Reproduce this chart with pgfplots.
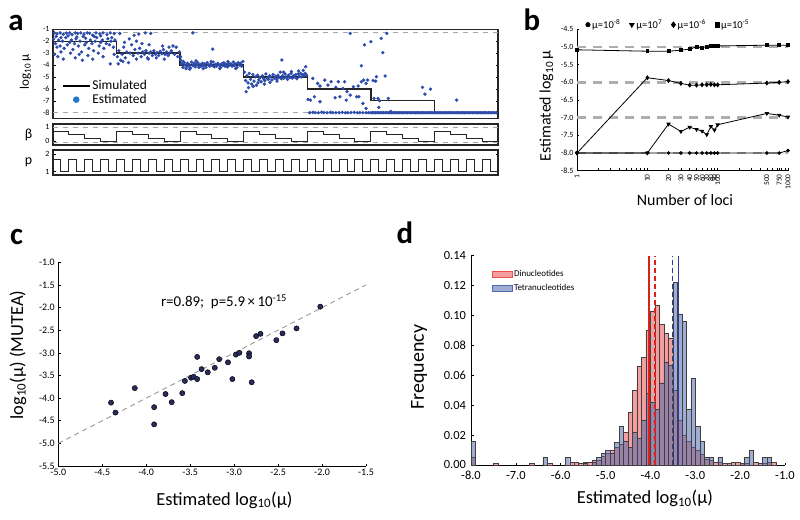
\documentclass[border=0pt]{standalone}
\usepackage{fontspec}
\setmainfont{Carlito}
\usepackage{pgfplots}
\pgfplotsset{compat=1.18}
\definecolor{ptblue}{RGB}{45,75,170}
\definecolor{legblue}{RGB}{30,120,200}
\definecolor{navy}{RGB}{40,45,95}
\definecolor{hred}{RGB}{235,80,80}
\definecolor{hblue}{RGB}{80,105,175}
\definecolor{lred}{RGB}{225,30,30}
\definecolor{lblue}{RGB}{40,60,160}
\definecolor{dgray}{RGB}{165,165,165}
\newcommand{\fs}[1]{\fontsize{#1}{#1}\selectfont}
\pgfplotsset{
  base/.style={scale only axis, anchor=north west,
    /pgf/number format/assume math mode=true,
    tick style={black, line width=0.5bp}, major tick length=2.5bp},
  every non boxed x axis/.append style={x axis line style={-}, xtick align=outside},
  every non boxed y axis/.append style={y axis line style={-}, ytick align=outside},
}
\begin{document}
\begin{tikzpicture}
\useasboundingbox (0bp,0bp) rectangle (800bp,-520bp);
% panel labels
\node[font=\bfseries\fs{31}] at (16bp,-23bp) {a};
\node[font=\bfseries\fs{31}] at (532bp,-20bp) {b};
\node[font=\bfseries\fs{31}] at (16.5bp,-237bp) {c};
\node[font=\bfseries\fs{31}] at (405bp,-233bp) {d};

% ---------- panel a main ----------
\begin{axis}[base, at={(53bp,-29.3bp)}, width=445bp, height=89bp,
  xmin=0, xmax=56, ymin=-8.47, ymax=-1,
  xtick=\empty, ytick={-8,-7,-6,-5,-4,-3,-2,-1},
  ytick pos=both, yticklabel pos=left, tick align=inside,
  yticklabel style={font=\fs{8}},
  axis line style={line width=1.1bp, black!85},
  ylabel={log\textsubscript{10}\,μ}, ylabel style={font=\fs{13}, at={(axis description cs:-0.062,0.52)}, anchor=center},
  legend style={draw=none, fill=none, at={(axis description cs:0.02,0.45)}, anchor=north west, font=\fs{13.5}, row sep=-1bp, inner sep=0pt},
  legend cell align=left]
\addplot[dgray, line width=1bp, dash pattern=on 5bp off 5bp, forget plot] coordinates {(0,-1.3)(56,-1.3)};
\addplot[dgray, line width=1bp, dash pattern=on 5bp off 5bp, forget plot] coordinates {(0,-8)(56,-8)};
\addplot[only marks, mark=*, mark size=1.5bp, color=ptblue, forget plot] coordinates {
(0.2,-1.3)(0.5,-1.38)(0.9,-1.3)(1.3,-1.42)(1.7,-1.32)(2.1,-1.3)(2.4,-1.45)(2.8,-1.3)(3.1,-1.35)(3.5,-1.3)(3.9,-1.4)(4.3,-1.3)(4.6,-1.33)(5.0,-1.5)(5.4,-1.3)(5.9,-1.38)(6.3,-1.3)(6.8,-1.45)(7.2,-1.3)(7.7,-1.36)
(0.4,-1.6)(1.0,-1.7)(1.9,-1.55)(3.0,-1.65)(4.1,-1.75)(5.2,-1.6)(6.0,-1.55)(7.4,-1.7)
(0.1,-1.8)(0.3,-2.2)(0.5,-2.5)(0.7,-1.9)(0.9,-2.4)(1.2,-2.0)(1.4,-2.6)(1.6,-1.7)(1.8,-2.3)(2.1,-2.1)(2.3,-1.9)(2.5,-2.7)(2.7,-2.2)(2.9,-1.8)(3.2,-2.4)(3.4,-2.0)(3.6,-2.9)(3.8,-1.6)(4.0,-2.3)(4.2,-2.1)(4.5,-2.6)(4.7,-1.9)(4.9,-2.2)(5.1,-2.8)(5.3,-2.0)(5.5,-1.7)(5.8,-2.4)(6.0,-2.1)(6.2,-1.9)(6.4,-2.6)(6.7,-2.2)(6.9,-1.8)(7.1,-2.3)(7.3,-2.0)(7.6,-2.5)(7.8,-1.9)
(0.2,-3.1)(0.6,-3.3)(1.0,-2.9)(1.3,-3.5)(2.2,-3.0)(2.8,-3.4)(3.3,-3.1)(3.7,-3.6)(4.4,-3.2)(5.0,-3.5)(5.7,-3.0)(6.3,-3.3)(7.2,-3.9)(7.7,-3.1)
(8.1,-3.3)(8.3,-2.8)(8.5,-3.6)(8.7,-3.1)(8.9,-2.5)(9.1,-3.4)(9.3,-2.9)(9.5,-3.8)(9.7,-3.0)(9.9,-2.3)(10.1,-3.2)(10.3,-2.7)(10.5,-3.5)(10.7,-3.0)(10.9,-2.6)(11.1,-3.3)(11.3,-2.9)(11.5,-3.1)(11.7,-2.8)(11.9,-3.4)(12.1,-3.0)(12.3,-2.9)(12.5,-3.2)(12.7,-2.8)(12.9,-3.1)(13.1,-2.95)(13.3,-3.2)(13.5,-2.85)(13.7,-3.05)(13.9,-2.7)(14.1,-3.1)(14.3,-2.9)(14.5,-3.2)(14.7,-3.0)(14.9,-2.8)(15.1,-2.4)(15.3,-3.1)(15.5,-2.5)(15.7,-3.3)(15.9,-2.9)
(8.4,-1.35)(9.6,-1.8)(10.2,-1.5)(10.8,-1.4)(11.6,-1.3)(12.3,-1.35)(9.0,-2.1)(10.5,-2.0)(11.2,-2.2)(8.2,-3.9)(8.8,-3.7)(12.0,-3.5)(13.0,-3.4)(14.0,-3.5)(12.1,-2.3)(13.8,-2.4)(14.6,-2.5)
(16.1,-3.6)(16.2,-3.9)(16.35,-4.2)(16.5,-3.8)(16.6,-4.0)(16.75,-4.3)(16.9,-3.85)(17.0,-4.1)(17.15,-3.95)(17.3,-4.25)(17.45,-3.75)(17.6,-4.05)(17.75,-3.9)(17.9,-4.15)(18.05,-4.0)(18.2,-3.8)(18.35,-4.2)(18.5,-3.95)(18.65,-4.1)(18.8,-3.85)(18.95,-4.05)(19.1,-3.9)(19.25,-4.2)(19.4,-3.8)(19.55,-4.0)(19.7,-4.1)(19.85,-3.9)(20.0,-4.05)(20.15,-3.75)(20.3,-4.15)(20.45,-3.95)(20.6,-4.1)(20.75,-3.85)(20.9,-4.0)(21.05,-4.2)(21.2,-3.9)(21.35,-4.05)(21.5,-3.8)(21.65,-4.1)(21.8,-3.95)(21.95,-4.15)(22.1,-3.85)(22.25,-4.0)(22.4,-3.9)(22.55,-4.1)(22.7,-3.75)(22.85,-4.05)(23.0,-3.9)(23.15,-4.2)(23.3,-3.8)(23.45,-4.0)(23.6,-3.85)(23.75,-4.1)(23.9,-3.7)
(16.4,-3.7)(17.2,-4.35)(18.0,-3.65)(18.9,-4.3)(19.9,-3.7)(21.0,-4.3)(22.0,-3.7)(23.0,-4.3)(16.8,-4.05)(17.8,-3.85)(19.0,-4.0)(20.5,-4.0)(21.7,-3.95)(22.9,-3.95)(17.6,-1.3)(20.1,-2.66)(16.05,-3.3)
(24.1,-4.6)(24.3,-6.24)(24.25,-5.3)(24.4,-4.9)(24.55,-5.5)(24.7,-4.7)(24.85,-5.2)(25.0,-5.6)(25.15,-4.8)(25.3,-5.35)(25.45,-5.0)(25.6,-5.7)(25.75,-4.85)(25.9,-5.25)(26.05,-5.05)(26.2,-5.4)(26.35,-4.9)(26.5,-5.15)(26.65,-5.3)(26.8,-4.75)(26.95,-5.1)(27.1,-5.2)(27.25,-4.9)(27.4,-5.0)(27.55,-5.25)(27.7,-4.8)(27.85,-5.1)(28.0,-4.95)(28.15,-5.2)(28.3,-4.85)(28.45,-5.05)(28.6,-4.6)(28.8,-3.58)(28.75,-5.15)(28.9,-4.9)(29.05,-5.1)(29.2,-4.75)(29.35,-5.0)(29.5,-5.2)(29.65,-4.85)(29.8,-5.05)(29.95,-4.7)(30.1,-5.1)(30.25,-4.9)(30.4,-5.0)(30.55,-4.8)(30.7,-5.15)(30.85,-4.75)(31.0,-4.95)(31.15,-4.7)(31.3,-5.0)(31.45,-4.8)(31.6,-4.9)(31.75,-4.7)(31.8,-4.14)(31.9,-4.85)
(24.6,-5.9)(25.2,-5.8)(25.8,-5.5)(26.6,-5.6)(27.3,-5.45)(28.2,-5.35)(29.0,-4.6)(30.0,-4.55)(30.9,-4.5)(31.5,-4.45)
(32.7,-5.12)(33.3,-5.54)(33.6,-5.76)(34.2,-5.26)(34.6,-5.68)(35.0,-5.40)(35.6,-5.87)(35.9,-5.40)(36.5,-5.96)(36.7,-5.40)(37.0,-6.24)(37.4,-6.52)(37.8,-5.82)(38.2,-6.66)(38.4,-5.76)(38.8,-5.40)(39.1,-5.26)(39.4,-5.54)(39.6,-5.26)
(32.9,-6.66)(33.6,-7.08)(35.5,-6.75)(36.1,-6.66)(36.9,-6.94)(38.5,-6.66)(39.0,-7.22)(39.4,-7.64)(40.4,-6.80)(41.0,-7.55)(42.2,-6.80)(32.1,-6.88)(32.4,-6.94)
(40.7,-4.98)(40.9,-6.8)(41.5,-2.96)(40.0,-2.04)(39.2,-2.3)(41.3,-1.76)(42.0,-1.34)(38.8,-4.06)(37.4,-1.34)(41.8,-4.92)(46.5,-5.87)(46.8,-6.44)(47.5,-6.02)(50.8,-6.94)(40.3,-5.3)(40.6,-5.35)(41.1,-7.0)(42.5,-7.9)
(32.3,-8)(32.7,-7.97)(33.0,-8)(33.4,-8)(33.8,-7.96)(34.1,-8)(34.5,-8)(34.9,-7.97)(35.2,-8)(35.6,-8)(36.0,-8)(36.4,-7.97)(36.8,-8)(37.1,-8)(37.5,-8)(37.9,-7.97)(38.3,-8)(38.6,-8)(39.0,-8)(39.4,-8)(39.7,-8)
(40.0,-8)(40.2,-8)(40.4,-8)(40.6,-8)(40.8,-8)(41.0,-8)(41.2,-8)(41.4,-8)(41.6,-8)(41.8,-8)(42.0,-8)(42.2,-8)(42.4,-8)(42.6,-8)(42.8,-8)(43.0,-8)(43.2,-8)(43.4,-8)(43.6,-8)(43.8,-8)
(44.0,-8)(44.2,-8)(44.4,-8)(44.6,-8)(44.8,-8)(45.0,-8)(45.2,-8)(45.4,-8)(45.6,-8)(45.8,-8)(46.0,-8)(46.2,-8)(46.4,-8)(46.6,-8)(46.8,-8)(47.0,-8)(47.2,-8)(47.4,-8)(47.6,-8)(47.8,-8)
(48.0,-8)(48.2,-8)(48.4,-8)(48.6,-8)(48.8,-8)(49.0,-8)(49.2,-8)(49.4,-8)(49.6,-8)(49.8,-8)(50.0,-8)(50.2,-8)(50.4,-8)(50.6,-8)(50.8,-8)(51.0,-8)(51.2,-8)(51.4,-8)(51.6,-8)(51.8,-8)
(52.0,-8)(52.2,-8)(52.4,-8)(52.6,-8)(52.8,-8)(53.0,-8)(53.2,-8)(53.4,-8)(53.6,-8)(53.8,-8)(54.0,-8)(54.2,-8)(54.4,-8)(54.6,-8)(54.8,-8)(55.0,-8)(55.2,-8)(55.4,-8)(55.6,-8)(55.8,-8)
};
\addplot[const plot, black!85, line width=1.3bp, legend image code/.code={\draw[black, line width=1.3bp] (0bp,0bp) -- (27bp,0bp);}] coordinates {(0,-2)(8,-3)(16,-4)(24,-5)(32,-6)(40,-7)(48,-8)(56,-8)};
\addlegendentry{Simulated}
\addlegendimage{legend image code/.code={\fill[legblue] (13.5bp,0bp) circle (3bp);}}
\addlegendentry{Estimated}
\end{axis}

% ---------- panel a beta ----------
\begin{axis}[base, at={(53bp,-124bp)}, width=445bp, height=21bp,
  xmin=0, xmax=56, ymin=-0.286, ymax=1.214,
  xtick=\empty, ytick={0,1}, ytick pos=both, yticklabel pos=left, tick align=inside,
  yticklabel style={font=\fs{8}}, axis line style={line width=1.1bp, black!85},
  ylabel={β}, ylabel style={font=\fs{14}, rotate=-90, at={(axis description cs:-0.055,0.5)}, anchor=center}]
\addplot[dgray, line width=0.9bp, dash pattern=on 5bp off 5bp] coordinates {(0,0.95)(56,0.95)};
\addplot[dgray, line width=0.9bp, dash pattern=on 5bp off 5bp] coordinates {(0,-0.1)(56,-0.1)};
\addplot[const plot, black!85, line width=1bp] coordinates {
(0,0.7)(2,0.45)(4,0.2)(6,-0.05)(8,0.7)(10,0.45)(12,0.2)(14,-0.05)(16,0.7)(18,0.45)(20,0.2)(22,-0.05)(24,0.7)(26,0.45)(28,0.2)(30,-0.05)(32,0.7)(34,0.45)(36,0.2)(38,-0.05)(40,0.7)(42,0.45)(44,0.2)(46,-0.05)(48,0.7)(50,0.45)(52,0.2)(54,-0.05)(56,-0.05)};
\end{axis}

% ---------- panel a p ----------
\begin{axis}[base, at={(53bp,-150bp)}, width=445bp, height=25bp,
  xmin=0, xmax=56, ymin=0.814, ymax=2.226,
  xtick=\empty, ytick={1,2}, ytick pos=both, yticklabel pos=left, tick align=inside,
  yticklabel style={font=\fs{8}}, axis line style={line width=1.1bp, black!85},
  ylabel={p}, ylabel style={font=\fs{14}, rotate=-90, at={(axis description cs:-0.055,0.5)}, anchor=center}]
\addplot[const plot, black!85, line width=1bp] coordinates {
(0,1.67)(1,1)(2,1.67)(3,1)(4,1.67)(5,1)(6,1.67)(7,1)(8,1.67)(9,1)(10,1.67)(11,1)(12,1.67)(13,1)(14,1.67)(15,1)(16,1.67)(17,1)(18,1.67)(19,1)(20,1.67)(21,1)(22,1.67)(23,1)(24,1.67)(25,1)(26,1.67)(27,1)(28,1.67)(29,1)(30,1.67)(31,1)(32,1.67)(33,1)(34,1.67)(35,1)(36,1.67)(37,1)(38,1.67)(39,1)(40,1.67)(41,1)(42,1.67)(43,1)(44,1.67)(45,1)(46,1.67)(47,1)(48,1.67)(49,1)(50,1.67)(51,1)(52,1.67)(53,1)(54,1.67)(55,1)(56,1)};
\end{axis}

% ---------- panel b ----------
\begin{axis}[base, at={(577bp,-29.3bp)}, width=211bp, height=141.4bp,
  xmode=log, log basis x=10, xmin=1, xmax=1000, ymin=-8.5, ymax=-4.5, clip=false,
  axis x line*=bottom, axis y line*=left, axis line style={line width=0.8bp},
  xtick={1,10,20,30,40,50,60,70,80,90,100,500,750,1000},
  xticklabels={1,10,20,30,40,50,60,70,80,90,100,500,750,1000},
  minor xtick={2,3,4,5,6,7,8,9,200,300,400,600,700,800,900},
  xticklabel style={rotate=90, anchor=east, font=\fs{7.5}},
  ytick={-8.5,-8,-7.5,-7,-6.5,-6,-5.5,-5,-4.5},
  yticklabel style={font=\fs{8}, /pgf/number format/.cd, fixed, fixed zerofill, precision=1},
  xlabel={Number of loci}, xlabel style={font=\fs{16}, at={(axis description cs:0.512,-0.207)}, anchor=center},
  ylabel={Estimated log\textsubscript{10}\,μ}, ylabel style={font=\fs{16}, at={(axis description cs:-0.145,0.46)}, anchor=center},
  legend style={draw=none, fill=none, at={(axis description cs:0.04,1.085)}, anchor=north west, font=\fs{10.5}, inner sep=0pt},
  legend columns=4, legend cell align=left,
  legend style={/tikz/every even column/.append style={column sep=7bp}}]
\addlegendimage{only marks, mark=*, mark size=2.3bp, black}
\addlegendentry{μ=10\textsuperscript{-8}}
\addlegendimage{only marks, mark=triangle*, mark size=3bp, black, mark options={rotate=180}}
\addlegendentry{μ=10\textsuperscript{7}}
\addlegendimage{only marks, mark=diamond*, mark size=3bp, black}
\addlegendentry{μ=10\textsuperscript{-6}}
\addlegendimage{only marks, mark=square*, mark size=2.2bp, black}
\addlegendentry{μ=10\textsuperscript{-5}}
\addplot[color=dgray!90, line width=2.4bp, dash pattern=on 9bp off 7bp, forget plot] coordinates {(1,-5)(1000,-5)};
\addplot[color=dgray!90, line width=2.4bp, dash pattern=on 9bp off 7bp, forget plot] coordinates {(1,-6)(1000,-6)};
\addplot[color=dgray!90, line width=2.4bp, dash pattern=on 9bp off 7bp, forget plot] coordinates {(1,-7)(1000,-7)};
\addplot[color=dgray!90, line width=2.4bp, dash pattern=on 9bp off 7bp, forget plot] coordinates {(1,-8)(1000,-8)};
\addplot[black, line width=0.8bp, mark=*, mark size=1.4bp, forget plot] coordinates {
(1,-8)(10,-8)(20,-8)(30,-8)(40,-8)(50,-8)(60,-8)(70,-8)(80,-8)(90,-8)(100,-8)(500,-8)(750,-8)(1000,-7.93)};
\addplot[black, line width=0.8bp, mark=triangle*, mark size=1.8bp, mark options={rotate=180}, forget plot] coordinates {
(1,-8)(10,-8)(20,-7.18)(30,-7.39)(40,-7.27)(50,-7.33)(60,-7.38)(70,-7.48)(80,-7.25)(90,-7.35)(100,-7.2)(500,-6.88)(750,-6.93)(1000,-6.98)};
\addplot[black, line width=0.8bp, mark=diamond*, mark size=1.9bp, forget plot] coordinates {
(1,-8)(10,-5.87)(20,-5.95)(30,-6.03)(40,-6.08)(50,-6.08)(60,-6.07)(70,-6.07)(80,-6.06)(90,-6.07)(100,-6.07)(500,-6.02)(750,-6.0)(1000,-5.98)};
\addplot[black, line width=0.8bp, mark=square*, mark size=1.4bp, forget plot] coordinates {
(1,-5.08)(10,-5.12)(20,-5.12)(30,-5.09)(40,-5.06)(50,-5.0)(60,-5.02)(70,-4.99)(80,-4.98)(90,-4.97)(100,-4.97)(500,-4.95)(750,-4.95)(1000,-4.95)};
\end{axis}

% ---------- panel c ----------
\begin{axis}[base, at={(58.3bp,-262.3bp)}, width=307.7bp, height=203.7bp,
  xmin=-5, xmax=-1.5, ymin=-5.5, ymax=-1, clip=false,
  axis x line*=bottom, axis y line*=left, axis line style={line width=0.8bp},
  xtick={-5,-4.5,-4,-3.5,-3,-2.5,-2,-1.5},
  ytick={-5.5,-5,-4.5,-4,-3.5,-3,-2.5,-2,-1.5,-1},
  ticklabel style={font=\fs{10}, /pgf/number format/.cd, fixed, fixed zerofill, precision=1},
  xlabel={Estimated log\textsubscript{10}(μ)}, xlabel style={font=\fs{18.5}, at={(axis description cs:0.54,-0.167)}, anchor=center},
  ylabel={log\textsubscript{10}(μ) (MUTEA)}, ylabel style={font=\fs{18.5}, at={(axis description cs:-0.131,0.545)}, anchor=center}]
\addplot[gray!80, line width=0.9bp, dash pattern=on 5bp off 4bp] coordinates {(-5,-5)(-1.5,-1.5)};
\addplot[only marks, mark=*, mark size=2.6bp, mark options={fill=navy, draw=black, line width=0.5bp}] coordinates {
(-4.40,-4.10)(-4.35,-4.32)(-4.13,-3.78)(-3.91,-4.20)(-3.91,-4.58)(-3.78,-3.91)(-3.71,-4.09)(-3.59,-3.89)(-3.56,-3.62)(-3.49,-3.55)(-3.46,-3.53)(-3.42,-3.58)(-3.42,-3.09)(-3.37,-3.36)(-3.30,-3.43)(-3.22,-3.33)(-3.17,-3.14)(-3.07,-3.21)(-3.02,-3.58)(-2.98,-3.04)(-2.94,-3.00)(-2.83,-3.01)(-2.83,-3.08)(-2.80,-3.65)(-2.75,-2.63)(-2.70,-2.58)(-2.52,-2.72)(-2.45,-2.57)(-2.29,-2.46)(-2.02,-1.98)};
\node[font=\fs{15}] at (axis cs:-3.115,-1.877) {r=0.89;\ \ p=5.9\,×\,10\textsuperscript{-15}};
\end{axis}

% ---------- panel d ----------
\begin{axis}[base, at={(471bp,-255.6bp)}, width=314bp, height=209.4bp,
  xmin=-8, xmax=-1, ymin=0, ymax=0.14, clip=false,
  axis x line*=bottom, axis y line*=left, axis line style={line width=0.8bp},
  xtick={-8,-7,-6,-5,-4,-3,-2,-1},
  ytick={0,0.02,0.04,0.06,0.08,0.10,0.12,0.14},
  xticklabel style={font=\fs{12.5}, yshift=-2.5bp, /pgf/number format/.cd, fixed, fixed zerofill, precision=1},
  yticklabel style={font=\fs{12.5}, xshift=-1.5bp, /pgf/number format/.cd, fixed, fixed zerofill, precision=2},
  xlabel={Estimated log\textsubscript{10}(μ)}, xlabel style={font=\fs{18.5}, at={(axis description cs:0.554,-0.16)}, anchor=center},
  ylabel={Frequency}, ylabel style={font=\fs{20}, at={(axis description cs:-0.165,0.468)}, anchor=center},
  legend style={draw=none, fill=none, at={(axis description cs:0.065,0.94)}, anchor=north west, font=\fs{9}, inner sep=0pt, row sep=2bp},
  legend cell align=left]
\addplot[ybar, bar width=0.1, bar shift=0pt, fill=hred, fill opacity=0.55, draw=black!75, line width=0.35bp, forget plot] coordinates {
(-7.95,0.005)(-7.45,0.001)(-6.65,0.001)(-6.25,0.001)(-5.75,0.002)(-5.65,0.002)(-5.55,0.001)(-5.45,0.002)(-5.35,0.002)(-5.25,0.003)(-5.15,0.003)(-5.05,0.006)(-4.95,0.008)(-4.85,0.010)(-4.75,0.012)(-4.65,0.014)(-4.55,0.022)(-4.45,0.035)(-4.35,0.050)(-4.25,0.066)(-4.15,0.072)(-4.05,0.090)(-3.95,0.103)(-3.85,0.107)(-3.75,0.094)(-3.65,0.088)(-3.55,0.085)(-3.45,0.050)(-3.35,0.030)(-3.25,0.020)(-3.15,0.016)(-3.05,0.012)(-2.95,0.010)(-2.85,0.007)(-2.75,0.004)(-2.65,0.003)(-2.55,0.002)(-2.45,0.002)(-2.35,0.001)(-2.15,0.002)(-2.05,0.002)(-1.95,0.001)(-1.85,0.001)(-1.65,0.002)(-1.45,0.001)(-1.35,0.002)(-1.25,0.002)};
\addplot[ybar, bar width=0.1, bar shift=0pt, fill=hblue, fill opacity=0.55, draw=black!75, line width=0.35bp, forget plot] coordinates {
(-7.95,0.016)(-6.35,0.005)(-5.85,0.005)(-5.45,0.001)(-5.25,0.002)(-5.15,0.005)(-5.05,0.008)(-4.95,0.010)(-4.85,0.008)(-4.75,0.015)(-4.65,0.026)(-4.55,0.016)(-4.45,0.012)(-4.35,0.022)(-4.25,0.018)(-4.15,0.030)(-4.05,0.048)(-3.95,0.042)(-3.85,0.037)(-3.75,0.055)(-3.65,0.069)(-3.55,0.067)(-3.45,0.122)(-3.35,0.101)(-3.25,0.096)(-3.15,0.037)(-3.05,0.058)(-2.95,0.026)(-2.85,0.016)(-2.75,0.005)(-2.65,0.005)(-2.45,0.005)(-2.25,0.001)(-1.95,0.001)(-1.85,0.005)(-1.75,0.010)(-1.55,0.001)(-1.45,0.005)(-1.35,0.005)};
\addplot[lred, line width=1.2bp, forget plot] coordinates {(-4.03,0)(-4.03,0.14)};
\addplot[lred, line width=1.2bp, dash pattern=on 5bp off 3bp, forget plot] coordinates {(-3.90,0)(-3.90,0.14)};
\addplot[lblue, line width=1.2bp, dash pattern=on 5bp off 3bp, forget plot] coordinates {(-3.50,0)(-3.50,0.14)};
\addplot[lblue, line width=1.2bp, forget plot] coordinates {(-3.38,0)(-3.38,0.14)};
\addlegendimage{legend image code/.code={\fill[hred, fill opacity=0.55] (0bp,-3bp) rectangle (20bp,3bp);}}
\addlegendentry{Dinucleotides}
\addlegendimage{legend image code/.code={\fill[hblue, fill opacity=0.55] (0bp,-3bp) rectangle (20bp,3bp);}}
\addlegendentry{Tetranucleotides}
\end{axis}
\end{tikzpicture}
\end{document}
